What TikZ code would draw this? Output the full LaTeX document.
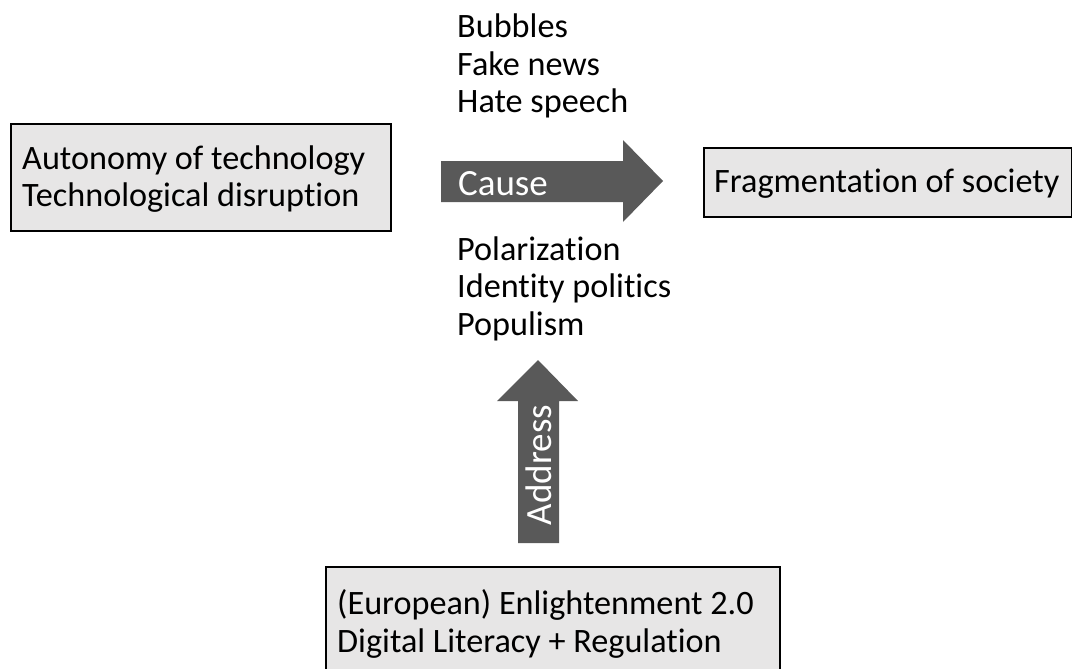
\documentclass[tikz,border=0pt]{standalone}
\usepackage{fontspec}
\setmainfont{Carlito}[Ligatures=NoCommon]
\definecolor{boxgray}{HTML}{E7E6E6}
\definecolor{arrowgray}{HTML}{595959}
\begin{document}
\begin{tikzpicture}[x=1pt,y=-1pt,
  box/.style={draw=black, line width=1.5pt, fill=boxgray, inner sep=0pt, anchor=north west},
  txt/.style={font=\fontsize{34.2}{37.5}\selectfont, align=left, inner sep=0pt, anchor=base west},
  arrowlabel/.style={font=\fontsize{37}{40}\selectfont, text=white, inner sep=0pt, anchor=base},
  arrowbody/.style={fill=arrowgray}]
\clip (0,0) rectangle (1072,669);
% boxes
\node[box, minimum width=380pt, minimum height=107pt] (techbox) at (10,123) {};
\node[txt] (techtxt) at (22,206.5) {Autonomy of technology\\Technological disruption};
\node[box, minimum width=368pt, minimum height=69pt] (fragbox) at (703,147) {};
\node[txt] (fragtxt) at (714,192) {Fragmentation of society};
\node[box, minimum width=454pt, minimum height=130pt] (enlbox) at (325,566) {};
\node[txt] (enltxt) at (337,652) {(European) Enlightenment 2.0\\Digital Literacy + Regulation};
% lists
\node[txt] (effects) at (457,113) {Bubbles\\Fake news\\Hate speech};
\node[txt] (politics) at (457,335) {Polarization\\Identity politics\\Populism};
% cause arrow
\fill[arrowbody] (441,161) -- (623,161) -- (623,140) -- (663,181) -- (623,222) -- (623,202) -- (441,202) -- cycle;
\node[arrowlabel] (cause) at (503,195) {Cause};
% address arrow
\fill[arrowbody] (518,543) -- (518,401) -- (497,401) -- (538,360) -- (578,401) -- (559,401) -- (559,543) -- cycle;
\node[arrowlabel, rotate=90] (address) at (551,465) {Address};
\end{tikzpicture}
\end{document}
